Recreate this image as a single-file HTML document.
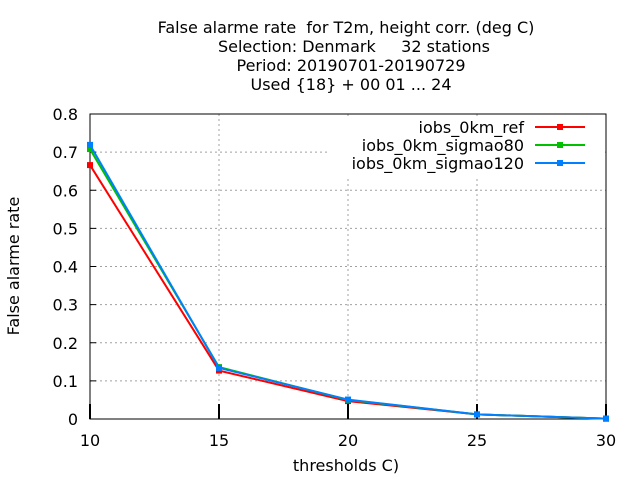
<!DOCTYPE html>
<html><head><meta charset="utf-8"><style>
body{margin:0;background:#fff}
svg{display:block;font-family:"DejaVu Sans","Liberation Sans",sans-serif}
</style></head><body>
<svg id="c" width="640" height="480">
<g font-size="16" text-anchor="middle" fill="#000">
<text x="346" y="33" xml:space="preserve">False alarme rate  for T2m, height corr. (deg C)</text>
<text x="354" y="52" xml:space="preserve">Selection: Denmark     32 stations</text>
<text x="351" y="71">Period: 20190701-20190729</text>
<text x="351" y="90">Used {18} + 00 01 ... 24</text>
</g>
<text font-size="16" text-anchor="middle" transform="translate(19,266) rotate(-90)">False alarme rate</text>
<text font-size="16" text-anchor="middle" x="346" y="471">thresholds C)</text>
<g id="grid"></g>
<g id="axes"></g>
<g id="series"></g>
<g id="legend"></g>
</svg>
<script>
const xCats=[10,15,20,25,30];
const yTicks=[0,0.1,0.2,0.3,0.4,0.5,0.6,0.7,0.8];
const yTickLabels=["0","0.1","0.2","0.3","0.4","0.5","0.6","0.7","0.8"];
const seriesNames=["iobs_0km_ref","iobs_0km_sigmao80","iobs_0km_sigmao120"];
const refVals=[0.666,0.127,0.047,0.012,0.001];
const s80Vals=[0.708,0.136,0.050,0.012,0.001];
const s120Vals=[0.719,0.134,0.051,0.012,0.001];
const colors=["#ff0000","#00c000","#0080ff"];
const L=90,R=606,T=114,B=419;
const xs=v=>L+(v-10)/20*(R-L);
const ys=v=>B-v/0.8*(B-T);
const NS="http://www.w3.org/2000/svg";
function mk(p,t,a){const e=document.createElementNS(NS,t);for(const k in a)e.setAttribute(k,a[k]);p.appendChild(e);return e;}
const grid=document.getElementById('grid'),axes=document.getElementById('axes'),ser=document.getElementById('series'),leg=document.getElementById('legend');
yTicks.forEach((v,i)=>{
  if(v>0&&v<0.8){const g=mk(grid,'line',{x1:L,x2:R,y1:ys(v),y2:ys(v),stroke:'#a0a0a0','stroke-dasharray':'2,3'});
  
  }
  const tk=mk(axes,'line',{x1:L,x2:L+6,y1:ys(v),y2:ys(v),stroke:'#000'});
  
  
  const t=mk(axes,'text',{x:L-12,y:ys(v)+6,'font-size':16,'text-anchor':'end'});t.textContent=yTickLabels[i];
  
  
});
xCats.forEach(v=>{
  if(v>10&&v<30){const g=mk(grid,'line',{x1:xs(v),x2:xs(v),y1:T,y2:B,stroke:'#a0a0a0','stroke-dasharray':'2,3'});
  
  }
  const tk=mk(axes,'line',{x1:xs(v),x2:xs(v),y1:B-15,y2:B,stroke:'#000','stroke-width':2});
  
  
  const t=mk(axes,'text',{x:xs(v),y:B+27,'font-size':16,'text-anchor':'middle'});t.textContent=v;
  
  
});
const lb=mk(leg,'rect',{x:330,y:116,width:274,height:62,fill:'#fff'});


const fr=mk(axes,'rect',{x:L,y:T,width:R-L,height:B-T,fill:'none',stroke:'#000'});


[refVals,s80Vals,s120Vals].forEach((vals,si)=>{
  const pts=vals.map((v,i)=>xs(xCats[i])+','+ys(v)).join(' ');
  const pl=mk(ser,'polyline',{points:pts,fill:'none',stroke:colors[si],'stroke-width':2});
  
  
  vals.forEach((v,i)=>{const m=mk(ser,'rect',{x:xs(xCats[i])-3,y:ys(v)-3,width:6,height:6,fill:colors[si]});
    
    });
  const y=127+si*18;
  const t=mk(leg,'text',{x:524,y:y+6,'font-size':16,'text-anchor':'end'});t.textContent=seriesNames[si];
  
  
  const l=mk(leg,'line',{x1:535,x2:585,y1:y,y2:y,stroke:colors[si],'stroke-width':2});
  
  
  const m=mk(leg,'rect',{x:557,y:y-3,width:6,height:6,fill:colors[si]});
  
  
});
</script>
</body></html>
